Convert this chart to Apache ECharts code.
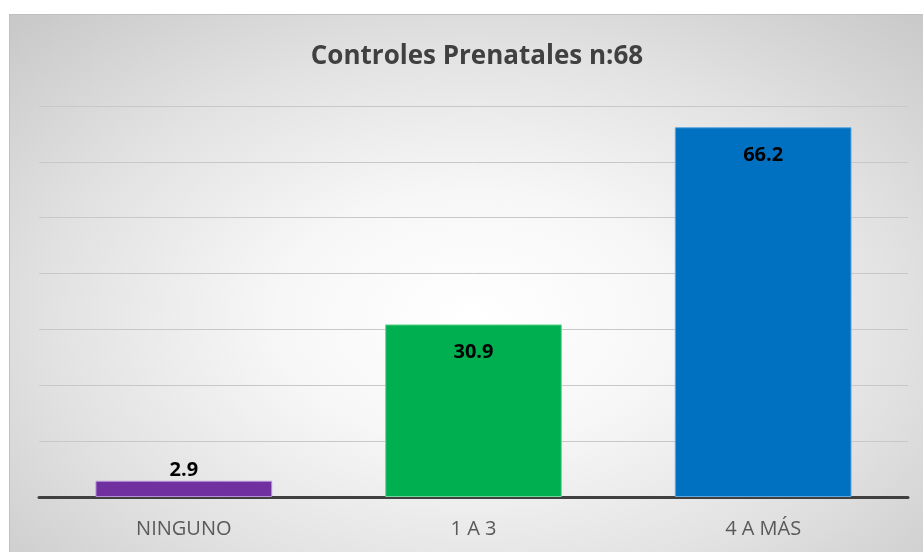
<!DOCTYPE html>
<html>
<head>
<meta charset="utf-8">
<script src="https://cdn.jsdelivr.net/npm/echarts@6/dist/echarts.min.js"></script>
<style>
    html, body { margin: 0; padding: 0; background: #ffffff; }
    #bg {
        position: absolute; left: 9px; top: 14px; width: 930px; height: 550px;
        border-top: 1px solid #c0c0c0; border-left: 1px solid #c0c0c0;
        background: radial-gradient(ellipse 70% 75% at 50% 55%, #ffffff 0%, #f7f7f7 30%, #e2e2e2 65%, #c9c9c9 100%);
    }
    #chart { position: absolute; left: 0; top: 0; width: 923px; height: 552px; }
</style>
</head>
<body>
<div id="bg"></div>
<div id="chart"></div>
<script>
const categories = ['NINGUNO', '1 A 3', '4 A MÁS'];
const values = [2.9, 30.9, 66.2];
const barColors = ['#7030A0', '#00B050', '#0070C0'];
const barBorders = ['#b58fd6', '#6fd79a', '#5ea7e0'];
const titleText = 'Controles Prenatales n:68';

let chart = echarts.init(document.getElementById('chart'));
let option = {
    title: {
        text: titleText,
        left: 472,
        top: 39,
        textAlign: 'center',
        textStyle: {
            fontFamily: 'Open Sans',
            fontSize: 26,
            fontWeight: 'bold',
            color: '#404040',
        },
    },
    grid: {
        left: 39,
        right: 15,
        top: 106,
        bottom: 55,
    },
    xAxis: {
        type: 'category',
        data: categories,
        axisTick: { show: false },
        axisLine: {
            lineStyle: { color: '#404040', width: 3 },
        },
        axisLabel: {
            fontFamily: 'Open Sans',
            fontSize: 20,
            color: '#595959',
            margin: 22,
        },
    },
    yAxis: {
        type: 'value',
        min: 0,
        max: 70,
        interval: 10,
        axisLabel: { show: false },
        axisLine: { show: false },
        axisTick: { show: false },
        splitLine: {
            lineStyle: { color: '#c8c8c8', width: 1 },
        },
    },
    series: [
        {
            type: 'bar',
            barWidth: '61%',
            data: values.map((v, i) => ({
                value: v,
                itemStyle: { color: barColors[i], borderColor: barBorders[i], borderWidth: 1 },
                label: i === 0
                    ? { position: 'top', distance: 1 }
                    : { position: 'insideTop', distance: 18 },
            })),
            label: {
                show: true,
                fontFamily: 'Open Sans',
                fontSize: 20,
                fontWeight: 'bold',
                color: '#000000',
            },
        },
    ],
};
chart.setOption(option);
</script>
</body>
</html>
